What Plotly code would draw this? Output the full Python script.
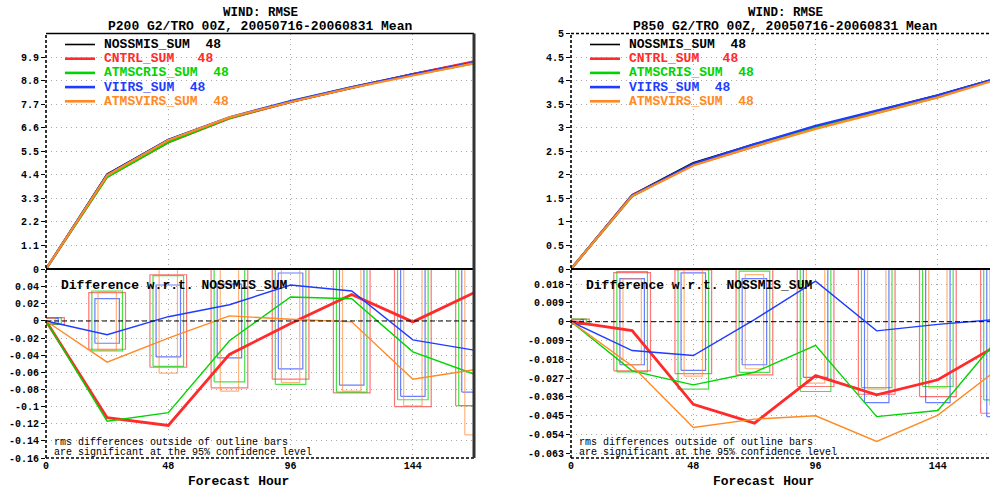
import plotly.graph_objects as go

# ---------------- data ----------------
hours = [0, 24, 48, 72, 96, 120, 144, 168]
exp_names = ["NOSSMIS_SUM", "CNTRL_SUM", "ATMSCRIS_SUM", "VIIRS_SUM", "ATMSVIRS_SUM"]
n_cases = "48"

# P200 RMSE
p200_nossmis = [0, 4.42, 6.03, 7.07, 7.80, 8.46, 9.11, 9.67]
p200_cntrl = [0, 4.31, 5.91, 7.03, 7.80, 8.49, 9.11, 9.70]
p200_atmscris = [0, 4.30, 5.92, 7.05, 7.83, 8.49, 9.07, 9.61]
p200_viirs = [0, 4.40, 6.04, 7.09, 7.84, 8.50, 9.09, 9.64]
p200_atmsvirs = [0, 4.37, 6.01, 7.08, 7.80, 8.46, 9.04, 9.61]

# P200 difference w.r.t. NOSSMIS
p200_diff_cntrl = [0, -0.113, -0.122, -0.039, -0.003, 0.031, -0.001, 0.033]
p200_diff_atmscris = [0, -0.117, -0.107, -0.023, 0.028, 0.026, -0.036, -0.062]
p200_diff_viirs = [0, -0.016, 0.005, 0.019, 0.042, 0.035, -0.022, -0.034]
p200_diff_atmsvirs = [0, -0.048, -0.020, 0.006, 0.002, -0.001, -0.068, -0.057]

# P200 95% significance thresholds
p200_sig_cntrl = [0.004, 0.033, 0.054, 0.078, 0.068, 0.084, 0.100, 0.099]
p200_sig_atmscris = [0.004, 0.035, 0.053, 0.071, 0.074, 0.083, 0.092, 0.099]
p200_sig_viirs = [0.003, 0.026, 0.042, 0.043, 0.056, 0.075, 0.088, 0.083]
p200_sig_atmsvirs = [0.003, 0.034, 0.061, 0.082, 0.072, 0.082, 0.099, 0.133]

# P850 RMSE
p850_nossmis = [0, 1.570, 2.250, 2.650, 3.020, 3.360, 3.690, 4.060]
p850_cntrl = [0, 1.566, 2.210, 2.602, 2.994, 3.325, 3.662, 4.049]
p850_atmscris = [0, 1.546, 2.220, 2.626, 3.009, 3.315, 3.648, 4.052]
p850_viirs = [0, 1.556, 2.234, 2.651, 3.039, 3.356, 3.689, 4.061]
p850_atmsvirs = [0, 1.549, 2.199, 2.603, 2.975, 3.303, 3.645, 4.038]

# P850 difference w.r.t. NOSSMIS
p850_diff_cntrl = [0, -0.0043, -0.0395, -0.0485, -0.0258, -0.0350, -0.0278, -0.0108]
p850_diff_atmscris = [0, -0.0235, -0.0302, -0.0242, -0.0113, -0.0454, -0.0425, -0.0075]
p850_diff_viirs = [0, -0.0138, -0.0162, 0.0010, 0.0194, -0.0044, -0.0013, 0.0012]
p850_diff_atmsvirs = [0, -0.0212, -0.0506, -0.0466, -0.0450, -0.0573, -0.0447, -0.0223]

# P850 95% significance thresholds
p850_sig_cntrl = [0.0012, 0.0235, 0.0248, 0.0254, 0.0310, 0.0347, 0.0358, 0.0438]
p850_sig_atmscris = [0.0012, 0.0240, 0.0323, 0.0242, 0.0334, 0.0315, 0.0310, 0.0374]
p850_sig_viirs = [0.0010, 0.0206, 0.0233, 0.0206, 0.0266, 0.0387, 0.0387, 0.0454]
p850_sig_atmsvirs = [0.0010, 0.0205, 0.0260, 0.0225, 0.0294, 0.0323, 0.0317, 0.0400]

# tick labels
p200_top_ticks = [0, 1.1, 2.2, 3.3, 4.4, 5.5, 6.6, 7.7, 8.8, 9.9]
p200_top_labels = ["0", "1.1", "2.2", "3.3", "4.4", "5.5", "6.6", "7.7", "8.8", "9.9"]
p200_bot_ticks = [-0.16, -0.14, -0.12, -0.10, -0.08, -0.06, -0.04, -0.02, 0, 0.02, 0.04]
p200_bot_labels = ["-0.16", "-0.14", "-0.12", "-0.1", "-0.08", "-0.06", "-0.04", "-0.02", "0", "0.02", "0.04"]
p850_top_ticks = [0, 0.5, 1, 1.5, 2, 2.5, 3, 3.5, 4, 4.5, 5]
p850_top_labels = ["0", "0.5", "1", "1.5", "2", "2.5", "3", "3.5", "4", "4.5", "5"]
p850_bot_ticks = [-0.063, -0.054, -0.045, -0.036, -0.027, -0.018, -0.009, 0, 0.009, 0.018]
p850_bot_labels = ["-0.063", "-0.054", "-0.045", "-0.036", "-0.027", "-0.018", "-0.009", "0", "0.009", "0.018"]
hour_ticks = [0, 48, 96, 144]
hour_labels = ["0", "48", "96", "144"]

# ---------------- styling ----------------
W, H = 990, 489
line_colors = ["#000000", "#ff2a2a", "#00d400", "#1e3cff", "#ff8a24"]
box_colors = ["rgba(255,70,70,0.75)", "rgba(0,210,0,0.7)", "rgba(40,70,255,0.7)", "rgba(255,140,50,0.65)"]
box_halfwidth = [7.2, 6.0, 4.8, 3.6]
top_widths = [2.0, 2.2, 2.2, 2.2, 2.2]
bot_widths = [2.8, 1.4, 1.4, 1.4]
MONO = "Liberation Mono"

def px(x):
    return x / W

def py(y):
    return 1 - y / H

LX = [px(46), px(474)]
RX = [px(571), 1.0]
TOPY = [py(269), py(33.5)]
BOTY = [py(458), py(269)]
RIGHT_END = (990 - 571) / (428 / 168)

fig = go.Figure()

def box_path(hrs, sig, hw):
    xs, ys = [], []
    for h, s in zip(hrs, sig):
        xs += [h - hw, h + hw, h + hw, h - hw, h - hw, None]
        ys += [-s, -s, s, s, -s, None]
    return xs, ys

panels = [
    dict(xt="x", yt="y", xb="x2", yb="y2",
         rmse=[p200_nossmis, p200_cntrl, p200_atmscris, p200_viirs, p200_atmsvirs],
         diff=[p200_diff_cntrl, p200_diff_atmscris, p200_diff_viirs, p200_diff_atmsvirs],
         sig=[p200_sig_cntrl, p200_sig_atmscris, p200_sig_viirs, p200_sig_atmsvirs]),
    dict(xt="x3", yt="y3", xb="x4", yb="y4",
         rmse=[p850_nossmis, p850_cntrl, p850_atmscris, p850_viirs, p850_atmsvirs],
         diff=[p850_diff_cntrl, p850_diff_atmscris, p850_diff_viirs, p850_diff_atmsvirs],
         sig=[p850_sig_cntrl, p850_sig_atmscris, p850_sig_viirs, p850_sig_atmsvirs]),
]

for p in panels:
    for i, series in enumerate(p["rmse"]):
        fig.add_trace(go.Scatter(x=hours, y=series, mode="lines", xaxis=p["xt"], yaxis=p["yt"],
                                 line=dict(color=line_colors[i], width=top_widths[i]),
                                 name=exp_names[i], hoverinfo="skip"))
    for i, sig in enumerate(p["sig"]):
        xs, ys = box_path(hours, sig, box_halfwidth[i])
        fig.add_trace(go.Scatter(x=xs, y=ys, mode="lines", xaxis=p["xb"], yaxis=p["yb"],
                                 line=dict(color=box_colors[i], width=1.2),
                                 hoverinfo="skip", connectgaps=False))
    for i, d in enumerate(p["diff"]):
        fig.add_trace(go.Scatter(x=hours, y=d, mode="lines", xaxis=p["xb"], yaxis=p["yb"],
                                 line=dict(color=line_colors[i + 1], width=bot_widths[i]),
                                 hoverinfo="skip"))

tickfont = dict(family=MONO, size=10, color="black", weight="bold")
grid = dict(showgrid=True, gridcolor="#a8a8a8", griddash="1px,4px", gridwidth=1, zeroline=False,
            showline=False, automargin=False)

def yax(domain, anchor, rng, vals, labels):
    return dict(domain=domain, anchor=anchor, range=rng, tickvals=vals, ticktext=labels,
                ticks="outside", ticklen=4, tickcolor="black", tickfont=tickfont, fixedrange=True, **grid)

def xax(domain, anchor, rng, labels_on):
    return dict(domain=domain, anchor=anchor, range=rng, tickvals=hour_ticks, ticktext=hour_labels,
                showticklabels=labels_on, ticks="", tickfont=tickfont, fixedrange=True, **grid)

fig.update_layout(
    width=W, height=H, margin=dict(l=0, r=0, t=0, b=0, autoexpand=False),
    paper_bgcolor="white", plot_bgcolor="white", showlegend=False,
    xaxis=xax(LX, "y", [0, 168], False),
    yaxis=yax(TOPY, "x", [0, 11], p200_top_ticks, p200_top_labels),
    xaxis2=xax(LX, "y2", [0, 168], True),
    yaxis2=yax(BOTY, "x2", [-0.16, 0.0607], p200_bot_ticks, p200_bot_labels),
    xaxis3=xax(RX, "y3", [0, RIGHT_END], False),
    yaxis3=yax(TOPY, "x3", [0, 5], p850_top_ticks, p850_top_labels),
    xaxis4=xax(RX, "y4", [0, RIGHT_END], True),
    yaxis4=yax(BOTY, "x4", [-0.0652, 0.0252], p850_bot_ticks, p850_bot_labels),
)

# ---------------- frames ----------------
shapes = []
def seg(x0, y0, x1, y1, color="black", width=1.5, dash="solid", xref="paper", yref="paper"):
    shapes.append(dict(type="line", x0=x0, y0=y0, x1=x1, y1=y1, xref=xref, yref=yref,
                       line=dict(color=color, width=width, dash=dash), layer="above"))

DASH = "3px,2px"
# left panel
seg(LX[0], TOPY[1], LX[1], TOPY[1], width=1.6)
seg(LX[0], TOPY[0], LX[1], TOPY[0], width=2)
seg(LX[0], BOTY[0], LX[1], BOTY[0], width=1.6, dash=DASH)
seg(LX[0], BOTY[0], LX[0], TOPY[1], width=1.6, dash=DASH)
seg(LX[1], BOTY[0], LX[1], TOPY[1], color="#333333", width=3)
# right panel
seg(RX[0], TOPY[1], RX[1], TOPY[1], width=1.6, dash=DASH)
seg(RX[0], TOPY[0], RX[1], TOPY[0], width=2)
seg(RX[0], BOTY[0], RX[1], BOTY[0], width=1.6, dash=DASH)
seg(RX[0], BOTY[0], RX[0], TOPY[1], width=1.6, dash=DASH)
# zero lines in difference panels
seg(0, 0, 1, 0, width=1, dash="5px,3px", xref="x2 domain", yref="y2")
seg(0, 0, 1, 0, width=1, dash="5px,3px", xref="x4 domain", yref="y4")

# legend sample lines
legend_rows = [44.5, 58.7, 72.9, 87.1, 101.3]
legend_widths = [1.6, 2.6, 2.6, 2.6, 2.6]
for ox in (46, 571):
    for i, yy in enumerate(legend_rows):
        seg(px(ox + 19), py(yy), px(ox + 49), py(yy), color=line_colors[i], width=legend_widths[i])

fig.update_layout(shapes=shapes)

# ---------------- texts ----------------
ann = []
def text(x, y, s, size=13, color="black", bold=True, xanchor="left", yanchor="middle"):
    ann.append(dict(x=px(x), y=py(y), xref="paper", yref="paper", text=s, showarrow=False,
                    xanchor=xanchor, yanchor=yanchor,
                    font=dict(family=MONO, size=size, color=color, weight="bold" if bold else "normal")))

pad = {"NOSSMIS_SUM": "  ", "CNTRL_SUM": "   ", "ATMSCRIS_SUM": "  ", "VIIRS_SUM": "  ", "ATMSVIRS_SUM": "  "}
titles = ["P200 G2/TRO 00Z, 20050716-20060831 Mean", "P850 G2/TRO 00Z, 20050716-20060831 Mean"]
for k, ox in enumerate((46, 571)):
    text(ox + 214, 13.5, "WIND: RMSE", size=12.5, xanchor="center")
    text(ox + 214, 26.5, titles[k], xanchor="center")
    for i, yy in enumerate(legend_rows):
        text(ox + 55.5, yy, exp_names[i] + pad[exp_names[i]] + n_cases, color=line_colors[i])
    text(ox + 13, 285, "Difference w.r.t. NOSSMIS_SUM")
    text(ox + 6, 442, "rms differences outside of outline bars", size=10, bold=False)
    text(ox + 6, 452, "are significant at the 95% confidence level", size=10, bold=False)
    text(ox + 192.5, 481, "Forecast Hour", size=13, xanchor="center")

fig.update_layout(annotations=ann)

fig.write_html(
    "out.html",
    config={"displayModeBar": False, "staticPlot": True},
    post_script="document.body.style.margin='0';document.body.style.overflow='hidden';",
)
